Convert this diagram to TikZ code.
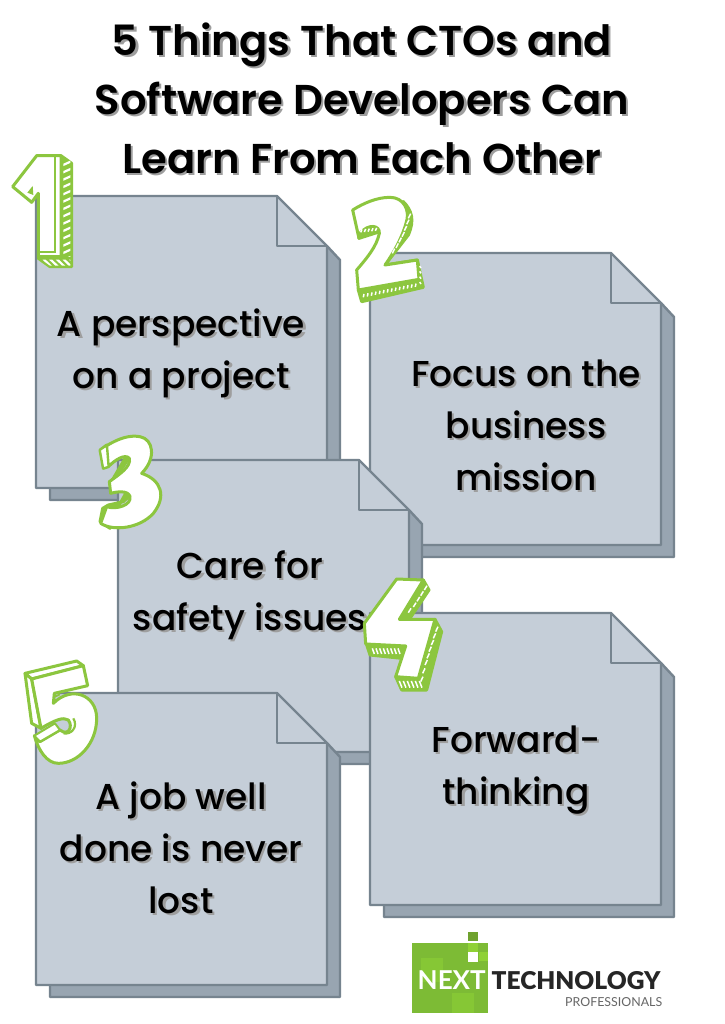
\documentclass[tikz,border=0pt]{standalone}
\usepackage{fontspec}
\setmainfont{Poppins}[BoldFont={Poppins SemiBold}]
\newfontfamily\bodyfont{Poppins Medium}
\newfontfamily\logofont{Lato}
\newfontfamily\logoheavy{Lato Black}
\newcommand{\bodysize}{\bodyfont\fontsize{36}{52}\selectfont}
\newcommand{\titlesize}{\bfseries\fontsize{41.7}{59}\selectfont}
\definecolor{docfill}{HTML}{C5CED8}
\definecolor{docline}{HTML}{76848F}
\definecolor{docshade}{HTML}{98A5B1}
\definecolor{numgreen}{HTML}{8CC63F}
\definecolor{logogreen}{HTML}{7DBB35}
\definecolor{logolight}{HTML}{8FD135}
\definecolor{logodark}{HTML}{6FA22E}
\tikzset{
  x=1pt,y=-1pt,
  docface/.style={draw=docline,fill=docfill,line width=2.4pt,line join=round},
  docback/.style={draw=docline,fill=docshade,line width=2.4pt,line join=round},
  docfold/.style={draw=docline,line width=2.4pt,line join=round},
  numface/.style={draw=numgreen,fill=white,line width=3pt,line join=round},
  numside/.style={draw=numgreen,fill=numgreen,line width=3pt,line join=round},
  hatchline/.style={draw=white,line width=1.5pt},
  shadowtxt/.style={text=black!38,align=center,inner sep=0pt},
  maintxt/.style={text=black,align=center,inner sep=0pt},
  doc/.pic={
    \draw[docback] (291,50) -- (304,64) -- (304,304) -- (14,304) -- (14,292) -- cycle;
    \draw[docface] (0,0) -- (241,0) -- (291,50) -- (291,292) -- (0,292) -- cycle;
    \draw[docfold] (241,0) -- (241,50) -- (291,50);
  }
}
\newcommand{\lbl}[4]{%
  \node[shadowtxt,font=#4] (#1s) at (#2+2.2,#3+2.2) {\csname txt#1\endcsname};
  \node[maintxt,font=#4] (#1) at (#2,#3) {\csname txt#1\endcsname};}
\newcommand{\txttitle}{5 Things That CTOs and\\Software Developers Can\\Learn From Each Other}
\newcommand{\txtone}{A perspective\\on a project}
\newcommand{\txttwo}{Focus on the\\business\\mission}
\newcommand{\txtthree}{Care for\\safety issues}
\newcommand{\txtfour}{Forward-\\thinking}
\newcommand{\txtfive}{A job well\\done is never\\lost}
\begin{document}
\begin{tikzpicture}
\useasboundingbox (0,0) rectangle (724,1024);
\fill[white] (0,0) rectangle (724,1024);
% title
\lbl{title}{362}{98}{\titlesize}
% page 1
\pic at (36,196) {doc};
\lbl{one}{181}{353}{\bodysize}
% page 2
\pic at (370,253) {doc};
\lbl{two}{526}{425}{\bodysize}
% page 3
\pic at (118,460) {doc};
\lbl{three}{250}{595}{\bodysize}
% page 5
\pic at (36,693) {doc};
\lbl{five}{181}{848}{\bodysize}
% page 4
\pic at (370,613) {doc};
\lbl{four}{516}{770}{\bodysize}
% numeral 1
\begin{scope}[shift={(0,140)},scale=1/3]
  \draw[numside] (183,47) -- (215,70) -- (215,380) -- (150,380) -- (115,355) -- cycle;
  \begin{scope}
    \clip (190,62) rectangle (211,350);
    \foreach \y in {70,92,...,370} \draw[white,line width=2.2pt] (185,\y+7) -- (216,\y-7);
  \end{scope}
  \begin{scope}
    \clip (125,359) -- (211,359) -- (211,377) -- (150,377) -- cycle;
    \foreach \x in {130,150,...,220} \draw[white,line width=2.2pt] (\x,357) -- (\x+24,380);
  \end{scope}
  \draw[numface] (110,47) -- (183,47) -- (183,350) -- (115,350) -- (115,160) -- (95,187) -- (38,140) -- cycle;
  \draw[numgreen,line width=2.2pt] (165,52) -- (165,335) -- (120,335);
  \fill[numgreen] (98,138) -- (100,165) -- (82,158) -- cycle;
\end{scope}
% numeral 2
\begin{scope}[shift={(340,190)},scale=1/3]
  \draw[numside] (190,35) .. controls (215,60) and (225,90) .. (205,135) -- (135,225) -- (232,210) -- (250,292) -- (65,335) -- (55,300) -- cycle;
  \draw[numside] (57,145) -- (52,110) -- (105,95) -- (120,125) -- cycle;
  \draw[numface] (38,60) .. controls (70,40) and (110,22) .. (150,22)
     .. controls (190,22) and (212,60) .. (198,100)
     .. controls (185,145) and (160,190) .. (135,225)
     -- (232,210) -- (237,268) -- (55,300) -- (50,240)
     .. controls (80,205) and (110,170) .. (118,130)
     .. controls (120,105) and (85,100) .. (60,130)
     -- (57,145) -- cycle;
  \foreach \x/\y in {205/85,200/103,193/122,186/140,177/157,168/174,157/190} \draw[hatchline] (\x,\y) -- ++(7,-14);
  \foreach \x in {70,82,...,226} \draw[hatchline] (\x,{322-(\x-70)*0.2}) -- ++(2,-10);
  \foreach \y in {228,244,260,276} \draw[hatchline] (239,\y) -- ++(4,6);
  \foreach \x in {62,73,84,95,106} \draw[hatchline] (\x,{127-(\x-62)*0.1}) -- ++(4,-9);
\end{scope}
% numeral 3
\begin{scope}[shift={(90,425)},scale=1/3]
  \draw[numface] (30,75) -- (50,60) -- (55,125) -- (40,130) -- cycle;
  \draw[numside] (30,290) -- (38,250) -- (55,240) -- (100,230) -- (125,205) -- (110,200) -- (60,290) -- (60,310) -- cycle;
  \fill[numgreen] (60,168) -- (100,100) -- (115,92) -- (118,105) -- (75,170) -- cycle;
  \draw[numface] (50,62) .. controls (90,38) and (120,30) .. (150,35)
     .. controls (190,42) and (200,100) .. (155,145)
     .. controls (215,165) and (230,215) .. (190,265)
     .. controls (150,310) and (70,320) .. (32,295)
     -- (50,245)
     .. controls (80,255) and (125,240) .. (120,215)
     .. controls (115,195) and (80,200) .. (62,205)
     -- (58,170)
     .. controls (85,150) and (125,125) .. (118,100)
     .. controls (105,85) and (75,105) .. (55,125) -- cycle;
  \draw[numface,line width=1.8pt] (30,75) -- (50,62) -- (55,125) -- (40,130) -- cycle;
  \draw[numgreen,line width=1.8pt] (32,295) -- (38,255) -- (50,245);
  \foreach \x in {65,82,99} \draw[numgreen,line width=1.8pt] (\x,307) -- ++(8,0);
  \draw[numgreen,line width=1.6pt] (100,110) -- (115,97) (108,225) -- (122,210);
\end{scope}
% numeral 4
\begin{scope}[shift={(355,570)},scale=1/3]
  \draw[numside] (205,30) -- (222,60) -- (165,145) -- (135,148) -- cycle;
  \draw[numside] (240,148) -- (260,185) -- (215,360) -- (140,360) -- (122,320) -- (190,325) -- cycle;
  \draw[numside] (32,215) -- (45,255) -- (140,265) -- (152,228) -- cycle;
  \foreach \x/\y in {208/60,197/77,186/94,175/111,160/128} \draw[hatchline] (\x,\y) -- ++(8,-13);
  \foreach \x/\y in {242/185,235/205,229/225,222/245,216/265,210/285,203/310,197/335} \draw[hatchline] (\x,\y) -- ++(7,-15);
  \foreach \x in {52,63,74,85,96,107,118,129} \draw[hatchline] (\x,235) -- ++(6,17);
  \foreach \x in {133,145,157,169,181,193} \draw[hatchline] (\x,333) -- ++(8,20);
  \draw[numface] (125,27) -- (205,30) -- (133,148) -- (240,148) -- (190,325) -- (122,320) -- (152,228) -- (32,222) -- (28,160) -- cycle;
\end{scope}
% numeral 5
\begin{scope}[shift={(15,655)},scale=1/3]
  \draw[numface] (30,55) -- (185,18) -- (205,32) -- (50,72) -- cycle;
  \draw[numface] (30,55) -- (50,72) -- (78,220) -- (50,205) -- cycle;
  \draw[numface] (50,72) -- (205,32) -- (218,92) -- (118,115) -- (115,145)
     .. controls (170,90) and (245,120) .. (245,190)
     .. controls (245,265) and (190,325) .. (130,325)
     .. controls (95,325) and (70,285) .. (58,242)
     -- (75,260) -- (135,225)
     .. controls (160,245) and (175,215) .. (160,195)
     .. controls (145,185) and (120,195) .. (78,220) -- cycle;
  \draw[numface,line width=2pt] (58,242) -- (120,205) -- (135,225) -- (75,260) -- cycle;
  \draw[numgreen,line width=1.8pt] (118,115) -- (120,125) -- (135,118);
  \draw[numgreen,line width=2.2pt] (145,235) .. controls (170,240) and (190,215) .. (175,190);
\end{scope}
% logo
\fill[logogreen] (412,943) rectangle (488,1013);
\fill[logolight,opacity=.55] (421,958) rectangle (443,982);
\fill[logolight,opacity=.55] (452,993) rectangle (474,1013);
\fill[logodark] (468,932) rectangle (478,941);
\fill[logolight] (468,943) rectangle (478,952);
\fill[white] (468,952) rectangle (478,962);
\fill[logolight] (479,952) rectangle (488,961);
\node[anchor=west,inner sep=0pt,text=white,font=\logofont\bfseries\fontsize{26}{26}\selectfont] (next) at (417.5,980) {NEXT};
\node[anchor=west,inner sep=0pt,text=black!85,font=\logoheavy\fontsize{24.5}{26}\selectfont] (tech) at (491.5,981) {TECHNOLOGY};
\node[anchor=west,inner sep=0pt,text=black!60,font=\logofont\fontsize{12.4}{14}\selectfont] (prof) at (565,1002) {PROFESSIONALS};
\end{tikzpicture}
\end{document}
